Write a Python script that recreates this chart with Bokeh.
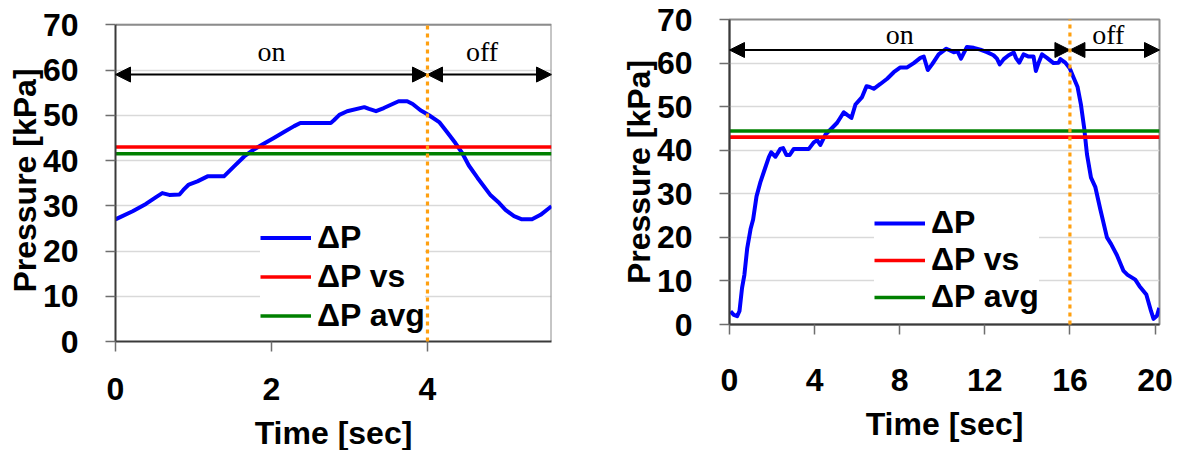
from bokeh.plotting import figure
from bokeh.models import (Range1d, FixedTicker, Arrow, NormalHead,
                          ColumnDataSource, Legend, LegendItem)
from bokeh.layouts import row
from bokeh.embed import file_html
from bokeh.resources import INLINE
from bokeh.core.properties import value

# ---- short cycle (left panel) ----
t_short = [0, 0.22, 0.39, 0.52, 0.60, 0.69, 0.82, 0.87, 0.94, 1.05,
           1.18, 1.39, 1.52, 1.65, 1.78, 1.90, 2.03, 2.16, 2.29, 2.37,
           2.76, 2.80, 2.87, 2.97, 3.19, 3.25, 3.34, 3.44, 3.63, 3.74,
           3.81, 3.91, 4.02, 4.15, 4.25, 4.36, 4.45, 4.53, 4.64, 4.81,
           4.92, 5.00, 5.11, 5.21, 5.34, 5.45, 5.59]
dp_short = [27.0, 28.8, 30.4, 31.9, 32.8, 32.4, 32.5, 33.5, 34.7, 35.4,
            36.5, 36.5, 38.7, 40.9, 42.5, 43.7, 45.0, 46.3, 47.6, 48.3,
            48.3, 48.9, 50.1, 50.9, 51.8, 51.4, 50.9, 51.6, 53.1, 53.1,
            52.5, 51.1, 50.0, 48.5, 46.3, 43.8, 41.5, 38.9, 36.2, 32.3,
            30.6, 29.1, 27.7, 27.0, 27.0, 28.0, 29.9]
dp_vs_short = 43.0
dp_avg_short = 41.5
switch_short = 4.0
t_max_short = 5.59
xticks_short = [0, 2, 4]
phase_arrow_short = 59
phase_label_x_short = [2.0, 4.7]
phase_label_y_short = 64.1

# ---- long cycle (right panel) ----
t_long = [0.05, 0.20, 0.36, 0.47, 0.59, 0.70, 0.83, 0.99, 1.11, 1.27,
          1.46, 1.64, 1.85, 1.96, 2.16, 2.39, 2.52, 2.68, 2.83, 3.02,
          3.73, 3.96, 4.12, 4.27, 4.51, 4.82, 5.06, 5.37, 5.53, 5.73,
          5.92, 6.23, 6.44, 6.59, 6.78, 7.09, 7.41, 7.72, 8.03, 8.35,
          8.66, 8.97, 9.13, 9.32, 9.52, 9.83, 10.19, 10.54, 10.72, 10.88,
          11.16, 11.48, 11.79, 12.10, 12.41, 12.57, 12.70, 12.89, 13.12, 13.36,
          13.46, 13.62, 13.82, 14.06, 14.29, 14.40, 14.53, 14.69, 14.92, 15.23,
          15.47, 15.55, 15.78, 15.99, 16.17, 16.36, 16.52, 16.67, 16.80, 16.99,
          17.19, 17.43, 17.74, 17.93, 18.21, 18.52, 18.71, 19.07, 19.27, 19.59,
          19.81, 19.93, 20.09, 20.20]
dp_long = [3.0, 2.2, 1.9, 3.1, 8.4, 11.4, 17.4, 21.9, 24.1, 29.4,
           32.8, 35.4, 38.4, 39.5, 38.5, 40.3, 40.5, 38.9, 38.9, 40.3,
           40.3, 41.8, 42.3, 41.2, 43.6, 45.1, 46.3, 48.7, 48.1, 47.4,
           50.5, 52.2, 54.7, 54.5, 54.1, 55.2, 56.4, 57.9, 59.0, 59.0,
           60.0, 61.2, 61.5, 58.4, 59.7, 62.0, 63.3, 62.5, 62.7, 61.0,
           63.7, 63.5, 63.1, 62.5, 61.8, 61.0, 59.7, 60.9, 61.8, 62.4,
           61.2, 60.1, 62.0, 61.5, 61.5, 58.2, 60.1, 62.0, 61.2, 60.0,
           60.1, 60.9, 60.1, 58.8, 56.7, 54.5, 50.4, 45.1, 39.1, 33.7,
           31.6, 26.4, 20.0, 18.5, 15.9, 12.3, 11.4, 10.3, 8.8, 6.9,
           3.1, 1.3, 2.0, 3.8]
dp_vs_long = 43.0
dp_avg_long = 44.4
switch_long = 16.0
t_max_long = 20.21
xticks_long = [0, 4, 8, 12, 16, 20]
phase_arrow_long = 63
phase_label_x_long = [8.0, 17.8]
phase_label_y_long = 66.6

p_max = 70
yticks = [0, 10, 20, 30, 40, 50, 60, 70]
phase_names = ["on", "off"]
series_names = ["\u0394P", "\u0394P vs", "\u0394P avg"]

SANS = "Liberation Sans"
SERIF = "Liberation Serif"
BOX = "#8c8c8c"


def panel(t, dp, dp_vs, dp_avg, switch, t_max, xticks, arrow_y, lab_x, lab_y,
          frame, y_end, borders, tick_standoff, legend_loc, row_h):
    left, right, top, bottom = borders
    p = figure(frame_width=frame[0], frame_height=frame[1],
               x_range=Range1d(0, t_max), y_range=Range1d(0, y_end),
               output_backend="svg", toolbar_location=None,
               min_border_left=left, min_border_right=right,
               min_border_top=top, min_border_bottom=bottom)
    p.background_fill_color = "white"
    p.border_fill_color = "white"
    if y_end > p_max:
        # headroom above the plot box: draw the box edges explicitly
        p.outline_line_color = None
        p.line([0, t_max, t_max], [p_max, p_max, 0], line_color=BOX,
               line_width=2)
    else:
        p.outline_line_color = BOX
        p.outline_line_width = 2

    p.xgrid.visible = False
    p.ygrid.grid_line_color = "#d9d9d9"
    p.ygrid.grid_line_width = 1.5
    p.ygrid.ticker = FixedTicker(ticks=yticks)

    p.xaxis.ticker = FixedTicker(ticks=xticks)
    p.yaxis.ticker = FixedTicker(ticks=yticks)
    p.yaxis.bounds = (0, p_max)
    for ax in (p.xaxis, p.yaxis):
        ax.axis_line_color = "#3a3a3a"
        ax.axis_line_width = 2
        ax.major_tick_line_color = "#6e6e6e"
        ax.major_tick_line_width = 1.5
        ax.major_tick_out = 10
        ax.major_tick_in = 0
        ax.minor_tick_line_color = None
        ax.major_label_text_font = SANS
        ax.major_label_text_font_size = "32px"
        ax.major_label_text_font_style = "bold"
        ax.major_label_text_color = "black"
        ax.axis_label_text_font = SANS
        ax.axis_label_text_font_size = "32px"
        ax.axis_label_text_font_style = "bold"
        ax.axis_label_text_color = "black"
    p.xaxis.axis_label = "Time [sec]"
    p.yaxis.axis_label = "Pressure [kPa]"
    p.yaxis.major_label_standoff = 27
    p.yaxis.axis_label_standoff = -3
    p.xaxis.major_label_standoff = tick_standoff
    p.xaxis.axis_label_standoff = 12

    r_dp = p.line(t, dp, line_color="#0000ff", line_width=4,
                  line_join="round")
    r_vs = p.line([0, t_max], [dp_vs, dp_vs], line_color="#ff0000",
                  line_width=3.6)
    r_avg = p.line([0, t_max], [dp_avg, dp_avg], line_color="#008000",
                   line_width=3.6)

    # on / off phase arrows
    head = dict(size=15, fill_color="black", line_color="black")
    arrows = ColumnDataSource(dict(x0=[0, switch], x1=[switch, t_max],
                                   y=[arrow_y, arrow_y]))
    p.add_layout(Arrow(start=NormalHead(**head), end=NormalHead(**head),
                       x_start="x0", y_start="y", x_end="x1", y_end="y",
                       source=arrows, line_color="black", line_width=2))
    p.text(x=lab_x, y=[lab_y, lab_y], text=phase_names,
           text_font=value(SERIF), text_font_size="28px",
           text_align="center", text_baseline="alphabetic",
           text_color="black")

    legend = Legend(items=[LegendItem(label=n, renderers=[r])
                           for n, r in zip(series_names, [r_dp, r_vs, r_avg])],
                    location=legend_loc)
    legend.label_text_font = SANS
    legend.label_text_font_size = "32px"
    legend.label_text_font_style = "bold"
    legend.label_text_color = "black"
    legend.glyph_width = 51
    legend.glyph_height = row_h
    legend.label_height = row_h
    legend.label_standoff = 6
    legend.spacing = 0
    legend.padding = 8
    legend.margin = 0
    legend.border_line_color = None
    legend.background_fill_color = "white"
    legend.background_fill_alpha = 1
    p.add_layout(legend)

    # on/off switching instant, drawn above the legend
    sw = p.segment(x0=[switch], y0=[0], x1=[switch], y1=[p_max],
                   line_color="#ffa010", line_width=3.2, line_dash="4 4")
    sw.level = "overlay"
    return p


p1 = panel(t_short, dp_short, dp_vs_short, dp_avg_short, switch_short,
           t_max_short, xticks_short, phase_arrow_short, phase_label_x_short,
           phase_label_y_short, (436, 322), 71.17, (115, 39, 19, 109), 26,
           (145, 6), 39)
p2 = panel(t_long, dp_long, dp_vs_long, dp_avg_long, switch_long,
           t_max_long, xticks_long, phase_arrow_long, phase_label_x_long,
           phase_label_y_long, (430, 305), 70, (139, 18, 19, 126), 34,
           (145, 9), 36)

layout = row(p1, p2)
open("out.html", "w").write(file_html(layout, INLINE))
